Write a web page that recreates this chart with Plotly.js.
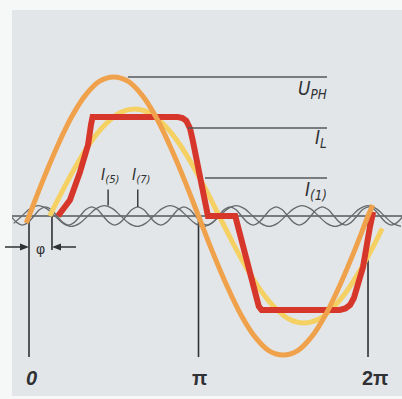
<!DOCTYPE html>
<html><head><meta charset="utf-8">
<script src="https://cdn.plot.ly/plotly-3.0.1.min.js"></script>
<style>html,body{margin:0;padding:0;background:#f6f7f7;}#chart{width:402px;height:399px;}</style>
</head><body><div id="chart"></div>
<script>
// x in electrical degrees (0..360 = 0..2π), y in units of U_PH amplitude
const uphX = [-3, 0, 15, 30, 45, 60, 75, 90, 105, 120, 135, 150, 165, 180, 195, 210, 225, 240, 255, 270, 285, 300, 315, 330, 345, 360, 365];
const uphY = [-0.05, 0, 0.26, 0.5, 0.71, 0.87, 0.97, 1.0, 0.97, 0.87, 0.71, 0.5, 0.26, 0, -0.26, -0.5, -0.71, -0.87, -0.97, -1.0, -0.97, -0.87, -0.71, -0.5, -0.26, 0, 0.08];

const i1X = [22, 37, 52, 67, 82, 97, 112, 127, 142, 157, 172, 187, 202, 217, 232, 247, 262, 277, 292, 307, 322, 337, 352, 367, 375];
const i1Y = [0, 0.2, 0.385, 0.545, 0.665, 0.745, 0.77, 0.745, 0.665, 0.545, 0.385, 0.2, 0, -0.2, -0.385, -0.545, -0.665, -0.745, -0.77, -0.745, -0.665, -0.545, -0.385, -0.2, -0.09];

const ilX = [30.8, 43.5, 54.2, 62.7, 65.8, 67.5, 158, 163, 167, 171, 174, 190, 219, 238, 244, 247, 330, 336, 341, 345, 354.7, 362, 365.5];
const ilY = [0, 0.115, 0.317, 0.511, 0.655, 0.712, 0.712, 0.705, 0.685, 0.63, 0.54, 0, 0, -0.48, -0.65, -0.676, -0.676, -0.665, -0.64, -0.59, -0.367, -0.08, 0.03];

const i5X = [-16.25, -7.5, 1.25, 10, 18.75, 27.5, 36.25, 45, 53.75, 62.5, 71.25, 80, 88.75, 97.5, 106.25, 115, 123.75, 132.5, 141.25, 150, 158.75, 167.5, 176.25, 185, 193.75, 202.5, 211.25, 220, 228.75, 237.5, 246.25, 255, 263.75, 272.5, 281.25, 290, 298.75, 307.5, 316.25, 325, 333.75, 342.5, 351.25, 360, 368.75, 377.5, 386.25, 395];
const i5Y = [-0.053, 0, 0.053,
  0.075, 0.053, 0, -0.053, -0.075, -0.053, 0, 0.053,
  0.075, 0.053, 0, -0.053, -0.075, -0.053, 0, 0.053,
  0.075, 0.053, 0, -0.053, -0.075, -0.053, 0, 0.053,
  0.075, 0.053, 0, -0.053, -0.075, -0.053, 0, 0.053,
  0.075, 0.053, 0, -0.053, -0.075, -0.053, 0, 0.053,
  0.075, 0.053, 0, -0.053, -0.075];

const i7X = [-19.25, -13.13, -7, -0.88, 5.25, 11.38, 17.5, 23.63, 29.75, 35.88, 42, 48.13, 54.25, 60.38, 66.5, 72.63, 78.75, 84.88, 91, 97.13, 103.25, 109.38, 115.5, 121.63, 127.75, 133.88, 140, 146.13, 152.25, 158.38, 164.5, 170.63, 176.75, 182.88, 189, 195.13, 201.25, 207.38, 213.5, 219.63, 225.75, 231.88, 238, 244.13, 250.25, 256.38, 262.5, 268.63, 274.75, 280.88, 287, 293.13, 299.25, 305.38, 311.5, 317.63, 323.75, 329.88, 336, 342.13, 348.25, 354.38, 360.5, 366.63, 372.75, 378.88, 385, 391.13, 397.25];
const i7Y = [0, -0.046, -0.065, -0.046, 0, 0.046,
  0.065, 0.046, 0, -0.046, -0.065, -0.046, 0, 0.046,
  0.065, 0.046, 0, -0.046, -0.065, -0.046, 0, 0.046,
  0.065, 0.046, 0, -0.046, -0.065, -0.046, 0, 0.046,
  0.065, 0.046, 0, -0.046, -0.065, -0.046, 0, 0.046,
  0.065, 0.046, 0, -0.046, -0.065, -0.046, 0, 0.046,
  0.065, 0.046, 0, -0.046, -0.065, -0.046, 0, 0.046,
  0.065, 0.046, 0, -0.046, -0.065, -0.046, 0, 0.046,
  0.065, 0.046, 0, -0.046, -0.065, -0.046, 0];

const tickPos = [0, 180, 360];
const tickLabels = ['<b><i>0</i></b>', '<b>π</b>', '<b>2π</b>'];
const phiDeg = 24.4;

// layout helpers (pixel -> paper)
const PL = 12, PW = 390, PT = 10, PH = 386;
const px = v => (v - PL) / PW;
const py = v => (PT + PH - v) / PH;

const grey = '#666a6d';
const dark = '#2f3134';
const fam = "'Liberation Sans Narrow', 'DejaVu Sans Condensed', 'Liberation Sans', sans-serif";

const traces = [
  {x: i5X, y: i5Y, mode: 'lines', line: {color: grey, width: 1.3, shape: 'spline', smoothing: 1}, hoverinfo: 'skip'},
  {x: i7X, y: i7Y, mode: 'lines', line: {color: grey, width: 1.3, shape: 'spline', smoothing: 1}, hoverinfo: 'skip'},
  {x: i1X, y: i1Y, mode: 'lines', line: {color: '#f5d163', width: 5, shape: 'spline', smoothing: 1}, hoverinfo: 'skip'},
  {x: ilX, y: ilY, mode: 'lines', line: {color: '#d6372a', width: 6}, hoverinfo: 'skip'},
  {x: uphX, y: uphY, mode: 'lines', line: {color: '#efa24b', width: 5, shape: 'spline', smoothing: 1}, hoverinfo: 'skip'}
];

const shapes = [
  {type: 'line', layer: 'below', xref: 'paper', yref: 'y', x0: 0, x1: 1, y0: 0, y1: 0, line: {color: '#55585b', width: 1.6}},
  {type: 'line', layer: 'below', xref: 'x', yref: 'y', x0: phiDeg, x1: phiDeg, y0: 0, y1: -0.245, line: {color: dark, width: 1.6}},
  // leader lines
  {type: 'line', xref: 'x', yref: 'y', x0: 105, x1: 316.5, y0: 1.0, y1: 1.0, line: {color: '#55585b', width: 1.4}},
  {type: 'line', xref: 'x', yref: 'y', x0: 168.8, x1: 316.5, y0: 0.633, y1: 0.633, line: {color: '#55585b', width: 1.4}},
  {type: 'line', xref: 'x', yref: 'y', x0: 186.9, x1: 316.5, y0: 0.273, y1: 0.273, line: {color: '#55585b', width: 1.4}},
  {type: 'line', xref: 'x', yref: 'y', x0: 84, x1: 84, y0: 0.19, y1: 0.075, line: {color: dark, width: 1.4}},
  {type: 'line', xref: 'x', yref: 'y', x0: 115.5, x1: 115.5, y0: 0.19, y1: 0.065, line: {color: dark, width: 1.4}},
  // φ dimension arrows
  {type: 'line', xref: 'paper', yref: 'paper', x0: px(5), x1: px(22), y0: py(247), y1: py(247), line: {color: dark, width: 1.5}},
  {type: 'path', xref: 'paper', yref: 'paper', path: `M ${px(29)} ${py(247)} L ${px(20)} ${py(243.5)} L ${px(20)} ${py(250.5)} Z`, fillcolor: dark, line: {width: 0}},
  {type: 'line', xref: 'paper', yref: 'paper', x0: px(59), x1: px(76), y0: py(247), y1: py(247), line: {color: dark, width: 1.5}},
  {type: 'path', xref: 'paper', yref: 'paper', path: `M ${px(52)} ${py(247)} L ${px(61)} ${py(243.5)} L ${px(61)} ${py(250.5)} Z`, fillcolor: dark, line: {width: 0}}
];
tickPos.forEach(t => shapes.push({type: 'line', layer: 'below', xref: 'x', yref: 'y', x0: t, x1: t, y0: 0, y1: -1.015, line: {color: dark, width: 1.6}}));

const annotations = [
  {xref: 'paper', yref: 'paper', x: px(329), y: py(90), xanchor: 'right', yanchor: 'middle', showarrow: false,
   text: '<i>U<sub>PH</sub></i>', font: {family: fam, size: 19, color: dark}},
  {xref: 'paper', yref: 'paper', x: px(329), y: py(138), xanchor: 'right', yanchor: 'middle', showarrow: false,
   text: '<i>I<sub>L</sub></i>', font: {family: fam, size: 19, color: dark}},
  {xref: 'paper', yref: 'paper', x: px(329), y: py(190), xanchor: 'right', yanchor: 'middle', showarrow: false,
   text: '<i>I<sub>(1)</sub></i>', font: {family: fam, size: 19, color: dark}},
  {xref: 'paper', yref: 'paper', x: px(110), y: py(175), xanchor: 'center', yanchor: 'middle', showarrow: false,
   text: '<i>I<sub>(5)</sub></i>', font: {family: fam, size: 16, color: dark}},
  {xref: 'paper', yref: 'paper', x: px(141), y: py(175), xanchor: 'center', yanchor: 'middle', showarrow: false,
   text: '<i>I<sub>(7)</sub></i>', font: {family: fam, size: 16, color: dark}},
  {xref: 'paper', yref: 'paper', x: px(40), y: py(249), xanchor: 'center', yanchor: 'middle', showarrow: false,
   text: 'φ', font: {family: 'Liberation Sans', size: 14, color: dark}}
];
const labelPx = [31, 199, 375];
tickPos.forEach((t, i) => annotations.push({xref: 'paper', yref: 'paper', x: px(labelPx[i]), y: py(378), xanchor: 'center', yanchor: 'middle',
  showarrow: false, text: tickLabels[i], font: {family: "'Liberation Sans', sans-serif", size: 20, color: dark}}));

const layout = {
  width: 402, height: 399,
  margin: {l: PL, r: 0, t: PT, b: 399 - PT - PH},
  paper_bgcolor: '#f6f7f7', plot_bgcolor: '#e3e6e9',
  showlegend: false,
  xaxis: {range: [-18.05, 396.1], visible: false, fixedrange: true},
  yaxis: {range: [-1.295, 1.482], visible: false, fixedrange: true},
  shapes: shapes, annotations: annotations
};
Plotly.newPlot('chart', traces, layout, {staticPlot: true, displayModeBar: false});
</script></body></html>
